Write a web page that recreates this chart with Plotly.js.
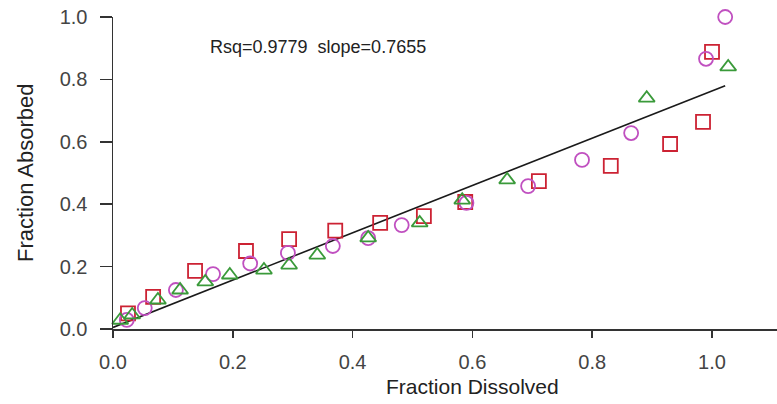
<!DOCTYPE html>
<html>
<head>
<meta charset="utf-8">
<script src="https://cdn.plot.ly/plotly-3.0.1.min.js"></script>
<style>html,body{margin:0;padding:0;background:#fff;}#chart{width:777px;height:404px;}</style>
</head>
<body>
<div id="chart"></div>
<script>
// Series 1: squares
const sqX = [0.025, 0.067, 0.137, 0.222, 0.294, 0.371, 0.446, 0.519, 0.588, 0.711, 0.831, 0.930, 0.985, 1.000];
const sqY = [0.050, 0.103, 0.186, 0.250, 0.288, 0.315, 0.340, 0.362, 0.407, 0.474, 0.523, 0.593, 0.664, 0.888];
// Series 2: circles
const ciX = [0.023, 0.053, 0.105, 0.167, 0.229, 0.292, 0.367, 0.426, 0.482, 0.590, 0.693, 0.783, 0.865, 0.990, 1.022];
const ciY = [0.029, 0.067, 0.125, 0.176, 0.210, 0.244, 0.266, 0.291, 0.333, 0.404, 0.458, 0.542, 0.628, 0.866, 1.000];
// Series 3: triangles
const trX = [0.012, 0.032, 0.075, 0.112, 0.154, 0.195, 0.252, 0.294, 0.341, 0.426, 0.512, 0.583, 0.658, 0.891, 1.027];
const trY = [0.028, 0.045, 0.093, 0.125, 0.151, 0.173, 0.189, 0.205, 0.237, 0.292, 0.340, 0.413, 0.478, 0.740, 0.840];
// Regression line endpoints
const fitX = [0.0, 1.022];
const fitY = [0.005, 0.780];
// Ticks
const xTicks = [0.0, 0.2, 0.4, 0.6, 0.8, 1.0];
const yTicks = [0.0, 0.2, 0.4, 0.6, 0.8, 1.0];
const xTickText = ["0.0", "0.2", "0.4", "0.6", "0.8", "1.0"];
const yTickText = ["0.0", "0.2", "0.4", "0.6", "0.8", "1.0"];
const statText = "Rsq=0.9779&nbsp;&nbsp;slope=0.7655";
const xTitle = "Fraction Dissolved";
const yTitle = "Fraction Absorbed";

const FONT = "Arial, 'Liberation Sans', sans-serif";

const traces = [
  {x: fitX, y: fitY, mode: 'lines', line: {color: '#1a1a1a', width: 1.6}, hoverinfo: 'skip', cliponaxis: false},
  {x: sqX, y: sqY, mode: 'markers', cliponaxis: false,
   marker: {symbol: 'square-open', size: 14, color: '#cc2233', line: {width: 1.8, color: '#cc2233'}}},
  {x: ciX, y: ciY, mode: 'markers', cliponaxis: false,
   marker: {symbol: 'circle-open', size: 14, color: '#c050c0', line: {width: 1.8, color: '#c050c0'}}},
  {x: trX, y: trY, mode: 'markers', cliponaxis: false,
   marker: {symbol: 'triangle-up-open', size: 14, color: '#3a9a3a', line: {width: 1.8, color: '#3a9a3a'}}}
];

const axisCommon = {
  showgrid: false, zeroline: false, showline: true, linecolor: '#333', linewidth: 1.5,
  ticks: 'outside', tickcolor: '#333', tickwidth: 1.5,
  tickfont: {family: FONT, size: 20, color: '#444'}
};

const layout = {
  width: 777, height: 404,
  margin: {l: 113, r: 0, t: 17, b: 75},
  paper_bgcolor: '#fff', plot_bgcolor: '#fff',
  showlegend: false,
  font: {family: FONT},
  xaxis: Object.assign({}, axisCommon, {
    range: [0, 1.1085], tickvals: xTicks, ticktext: xTickText, ticklen: 7, ticklabelstandoff: 7
  }),
  yaxis: Object.assign({}, axisCommon, {
    range: [0, 1], tickvals: yTicks, ticktext: yTickText, ticklen: 12, ticklabelstandoff: 8
  }),
  annotations: [
    {text: statText, xref: 'x', yref: 'y', x: 0.342, y: 0.904, xanchor: 'center', yanchor: 'middle',
     showarrow: false, font: {family: FONT, size: 18, color: '#222'}},
    {text: xTitle, xref: 'x', yref: 'paper', x: 0.6, y: -0.185, xanchor: 'center', yanchor: 'middle',
     showarrow: false, font: {family: FONT, size: 21, color: '#222'}},
    {text: yTitle, xref: 'paper', yref: 'paper', x: -0.1325, y: 0.5, xanchor: 'center', yanchor: 'middle',
     textangle: -90, showarrow: false, font: {family: FONT, size: 22, color: '#222'}}
  ]
};

Plotly.newPlot('chart', traces, layout, {displayModeBar: false, staticPlot: true});
</script>
</body>
</html>
